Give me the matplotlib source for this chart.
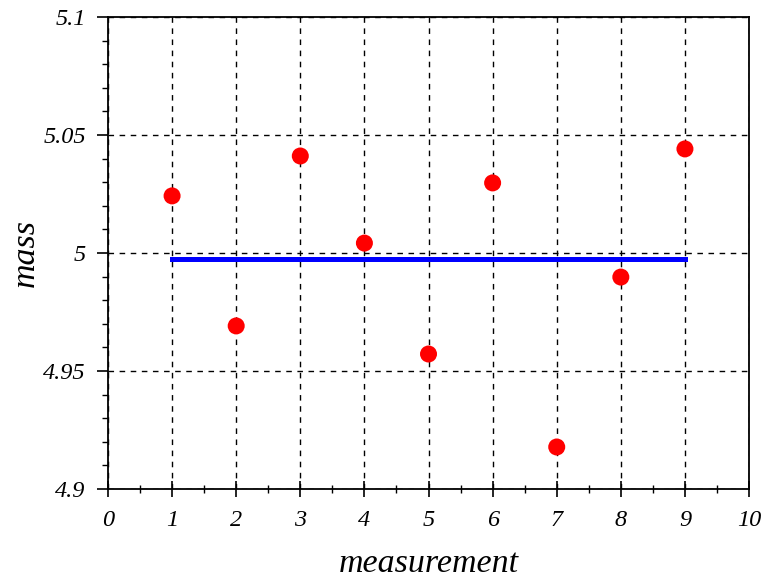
import numpy as np
import matplotlib
matplotlib.use('Agg')
import matplotlib.pyplot as plt
from matplotlib.ticker import MultipleLocator

# Дані вимірювань маси
measurement = [1, 2, 3, 4, 5, 6, 7, 8, 9]
mass = [5.0242, 4.9691, 5.0411, 5.0042, 4.9572, 5.0297, 4.9178, 4.9898, 5.0441]

mean_mass = np.mean(mass)

plt.rcParams['font.family'] = 'Liberation Serif'
plt.rcParams['font.style'] = 'italic'

fig = plt.figure(figsize=(7.62, 5.82), dpi=100)
ax = fig.add_axes([0.1417, 0.1598, 0.8413, 0.811])

ax.plot([measurement[0], measurement[-1]], [mean_mass, mean_mass], color='#0000ff', lw=3.6, zorder=3)
ax.scatter(measurement, mass, s=150, color='#ff0000', zorder=4, edgecolors='none')

ax.set_xlim(0, 10)
ax.set_ylim(4.9, 5.1)
ax.xaxis.set_major_locator(MultipleLocator(1))
ax.xaxis.set_minor_locator(MultipleLocator(0.5))
ax.yaxis.set_major_locator(MultipleLocator(0.05))
ax.yaxis.set_minor_locator(MultipleLocator(0.01))
ax.set_yticks([4.9, 4.95, 5.0, 5.05, 5.1])
ax.set_yticklabels(['4.9', '4.95', '5', '5.05', '5.1'])

ax.grid(True, which='major', color='black', linestyle=(0, (4, 4)), lw=1)
ax.tick_params(axis='x', which='major', direction='inout', length=12, width=1.2, labelsize=17.5, pad=9)
ax.tick_params(axis='x', which='minor', direction='inout', length=6, width=1)
ax.tick_params(axis='y', which='major', direction='out', length=8, width=1.2, labelsize=17.5, pad=8)
ax.tick_params(axis='y', which='minor', direction='out', length=4, width=1)
for s in ax.spines.values():
    s.set_linewidth(1.3)

ax.set_xlabel('measurement', fontsize=24.5, labelpad=13)
ax.set_ylabel('mass', fontsize=24.5, labelpad=2)

fig.savefig('out.png', dpi=100)
